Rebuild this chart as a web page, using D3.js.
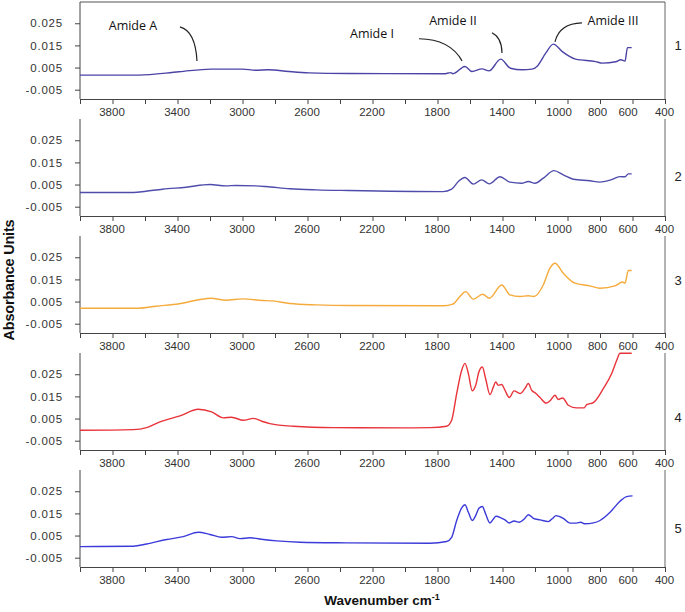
<!DOCTYPE html>
<html><head><meta charset="utf-8">
<script src="https://cdn.jsdelivr.net/npm/d3@7"></script>
<style>
body{margin:0;background:#fff;}
svg{display:block;}
.tick text{font-family:"Liberation Sans",Arial,sans-serif;}
</style></head>
<body><svg id="c" width="685" height="612"></svg>
<script>
// ---- data ----
const panelNames = ["1","2","3","4","5"];
const xTickValues = [4000,3800,3600,3400,3200,3000,2800,2600,2400,2200,2000,1800,1600,1400,1200,1000,800,600,400];
const xTickLabels = [3800,3400,3000,2600,2200,1800,1400,1000,800,600,400];
const yTickValues = [0.025,0.015,0.005,-0.005];
const yTickLabels = ["0.025","0.015","0.005","-0.005"];

const wn1 = [4000,3640,3390,3195,3000,2920,2840,2715,2590,2345,1760,1720,1705,1631,1588,1526,1483,1411,1351,1280,1218,1188,1134,1087,1032,950,827,785,703,672,646,631,605];
const ab1 = [0.0016,0.0016,0.0031,0.0043,0.0043,0.0038,0.0040,0.0032,0.0026,0.0023,0.0022,0.0027,0.0022,0.0055,0.0032,0.0044,0.0035,0.0088,0.0047,0.0040,0.0043,0.0055,0.0115,0.0156,0.0122,0.0088,0.0077,0.0070,0.0076,0.0085,0.0079,0.0140,0.0140];

const wn2 = [4000,3672,3594,3492,3348,3200,3102,3040,2918,2856,2708,2545,2345,1766,1713,1672,1631,1580,1528,1481,1415,1354,1282,1241,1200,1149,1083,1026,964,862,800,738,677,646,626,605];
const ab2 = [0.0014,0.0014,0.0020,0.0029,0.0038,0.0050,0.0044,0.0046,0.0044,0.0041,0.0031,0.0026,0.0023,0.0018,0.0029,0.0064,0.0082,0.0052,0.0071,0.0053,0.0085,0.0061,0.0056,0.0064,0.0056,0.0079,0.0113,0.0094,0.0074,0.0067,0.0061,0.0070,0.0086,0.0085,0.0098,0.0098];

const wn3 = [4000,3640,3532,3390,3268,3195,3102,3000,2877,2815,2708,2545,2345,1764,1706,1662,1627,1580,1522,1481,1405,1354,1292,1241,1206,1149,1108,1077,1026,954,862,800,708,661,646,626,605];
const ab3 = [0.0020,0.0020,0.0029,0.0040,0.0058,0.0065,0.0056,0.0062,0.0055,0.0053,0.0041,0.0035,0.0032,0.0031,0.0038,0.0073,0.0095,0.0061,0.0083,0.0065,0.0125,0.0080,0.0073,0.0076,0.0073,0.0125,0.0201,0.0223,0.0178,0.0133,0.0121,0.0110,0.0121,0.0138,0.0133,0.0190,0.0190];

const wn4 = [4000,3672,3590,3508,3385,3272,3190,3118,3067,2995,2933,2882,2831,2687,2441,2000,1846,1744,1713,1682,1651,1631,1610,1586,1565,1545,1524,1504,1477,1456,1442,1426,1405,1385,1358,1329,1292,1262,1241,1221,1194,1169,1132,1104,1077,1057,1030,995,944,898,882,841,779,728,697,677,605];
const ab4 = [-0.0003,0.0000,0.0009,0.0035,0.0062,0.0092,0.0080,0.0053,0.0056,0.0042,0.0051,0.0038,0.0027,0.0015,0.0009,0.0008,0.0009,0.0015,0.0042,0.0163,0.0268,0.0299,0.0253,0.0175,0.0200,0.0261,0.0283,0.0231,0.0158,0.0193,0.0215,0.0200,0.0204,0.0178,0.0145,0.0175,0.0163,0.0186,0.0208,0.0178,0.0163,0.0145,0.0120,0.0133,0.0155,0.0136,0.0143,0.0110,0.0098,0.0098,0.0113,0.0122,0.0186,0.0253,0.0313,0.0345,0.0345];

const wn5 = [4000,3672,3590,3467,3365,3272,3200,3128,3067,3015,2954,2872,2790,2646,2359,1846,1744,1713,1682,1651,1631,1610,1586,1565,1545,1524,1504,1477,1456,1440,1405,1385,1358,1329,1297,1266,1241,1210,1169,1118,1091,1071,1026,985,944,919,892,841,800,738,677,636,600];
const ab5 = [0.0000,0.0002,0.0012,0.0032,0.0045,0.0065,0.0055,0.0042,0.0045,0.0036,0.0040,0.0032,0.0026,0.0020,0.0017,0.0015,0.0023,0.0042,0.0118,0.0175,0.0189,0.0155,0.0118,0.0140,0.0173,0.0181,0.0148,0.0107,0.0125,0.0137,0.0128,0.0121,0.0107,0.0116,0.0110,0.0125,0.0144,0.0128,0.0121,0.0113,0.0128,0.0140,0.0128,0.0106,0.0106,0.0110,0.0103,0.0107,0.0118,0.0155,0.0205,0.0226,0.0229];

const wavenumbers = [wn1,wn2,wn3,wn4,wn5];
const absorbances = [ab1,ab2,ab3,ab4,ab5];
const colors = ["#4b44a6","#4f4cab","#f5ab3c","#e8333a","#3b3bd9"];

// annotations for panel 1 (data coordinates)
const annoLabels = ["Amide A","Amide I","Amide II","Amide III"];
const annoTextPos = [[3674,0.0238],[2203,0.0202],[1705,0.0261],[720,0.0261]];
const annoPaths = [
  [[3385,0.0234],[3290,0.0215],[3280,0.0080]],
  [[1914,0.0180],[1723,0.0178],[1649,0.0080]],
  [[1465,0.0207],[1405,0.0186],[1403,0.0116]],
  [[911,0.0252],[1050,0.0250],[1077,0.0166]]
];

// ---- layout ----
const svg = d3.select("#c");
const left = 80, right = 665;
const panelTop0 = 2, panelStep = 117, panelH = 97;
const numLabelDY = [43, 57, 44, 64, 58];

const x = d3.scaleLinear().domain([4000,400]).range([left,right]);
const y = d3.scaleLinear().domain([-0.0092,0.0346]).range([panelH,0]);

const font = '"Liberation Sans",Arial,sans-serif';

panelNames.forEach((name,i)=>{
  const g = svg.append("g").attr("transform",`translate(0,${panelTop0+i*panelStep})`);
  // right border
  g.append("line").attr("x1",right).attr("x2",right).attr("y1",0).attr("y2",panelH)
    .attr("stroke","#666").attr("stroke-width",1);
  if(i===0){
    g.append("line").attr("x1",left).attr("x2",right).attr("y1",0).attr("y2",0)
      .attr("stroke","#555").attr("stroke-width",1);
  }
  // bottom axis
  const xa = d3.axisBottom(x).tickValues(xTickValues).tickSize(5).tickPadding(4)
    .tickFormat(d=> xTickLabels.includes(d) ? String(d) : "");
  const gx = g.append("g").attr("transform",`translate(0,${panelH})`).call(xa);
  gx.select(".domain").attr("stroke","#444");
  gx.selectAll(".tick line").attr("stroke","#444");
  gx.selectAll(".tick text").attr("font-size","11.5px").attr("fill","#333")
    .attr("dx", d=> d===1000 ? -9 : (d===600 ? -5 : (d===800 ? -3 : -1)));
  // left axis
  const ya = d3.axisLeft(y).tickValues(yTickValues).tickSize(5).tickPadding(12)
    .tickFormat((d,k)=> yTickLabels[k]);
  const gy = g.append("g").attr("transform",`translate(${left},0)`).call(ya);
  gy.select(".domain").attr("stroke","#444").attr("d",`M0,0V${panelH}`);
  gy.selectAll(".tick line").attr("stroke","#444");
  gy.selectAll(".tick text").attr("font-size","11.5px").attr("fill","#333").attr("letter-spacing","0.8px");
  // spectrum
  const pts = wavenumbers[i].map((w,k)=>[w,absorbances[i][k]]);
  g.append("path").datum(pts)
    .attr("fill","none").attr("stroke",colors[i]).attr("stroke-width",1.4)
    .attr("d", d3.line().x(d=>x(d[0])).y(d=>y(d[1])).curve(d3.curveMonotoneX));
  // panel number
  g.append("text").attr("x",678).attr("y",numLabelDY[i]).attr("dy","0.35em")
    .attr("text-anchor","middle").attr("font-family",font).attr("font-size","13px")
    .attr("fill","#222").text(name);
  if(i===0){
    annoLabels.forEach((t,k)=>{
      g.append("text").attr("x",x(annoTextPos[k][0])).attr("y",y(annoTextPos[k][1]))
        .attr("dy","0.35em").attr("text-anchor","middle")
        .attr("font-family",'"Open Sans",sans-serif').attr("font-size","12.5px")
        .attr("fill","#111").text(t);
      const p = annoPaths[k];
      const path = d3.path();
      path.moveTo(x(p[0][0]),y(p[0][1]));
      path.quadraticCurveTo(x(p[1][0]),y(p[1][1]),x(p[2][0]),y(p[2][1]));
      g.append("path").attr("d",path.toString()).attr("fill","none")
        .attr("stroke","#222").attr("stroke-width",1.2);
    });
  }
});

// axis titles
svg.append("text").attr("transform","translate(9,280) rotate(-90)")
  .attr("text-anchor","middle").attr("dy","0.35em")
  .attr("font-family",font).attr("font-weight","bold").attr("font-size","14.5px")
  .attr("letter-spacing","-0.2px").attr("fill","#111").text("Absorbance Units");
const xt = svg.append("text").attr("x",382).attr("y",605).attr("text-anchor","middle")
  .attr("font-family",font).attr("font-weight","bold").attr("font-size","13.5px").attr("fill","#111");
xt.append("tspan").text("Wavenumber cm");
xt.append("tspan").attr("dy","-5").attr("font-size","9px").text("-1");
</script></body></html>
